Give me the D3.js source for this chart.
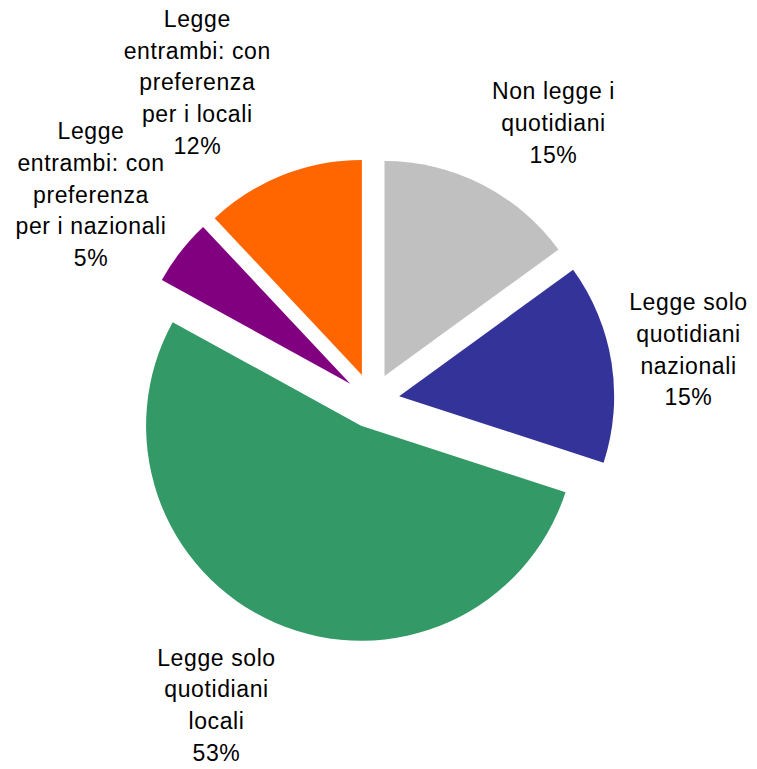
<!DOCTYPE html>
<html>
<head>
<meta charset="utf-8">
<script src="https://cdn.jsdelivr.net/npm/d3@7"></script>
<style>
  html, body { margin: 0; padding: 0; background: #ffffff; }
  svg { display: block; }
</style>
</head>
<body>
<script>
// Readership of daily newspapers — category names (line breaks as wrapped in the labels)
const categories = [
  "Non legge i\nquotidiani",
  "Legge solo\nquotidiani\nnazionali",
  "Legge solo\nquotidiani\nlocali",
  "Legge\nentrambi: con\npreferenza\nper i nazionali",
  "Legge\nentrambi: con\npreferenza\nper i locali"
];
// Share of respondents, percent
const shares = [15, 15, 53, 5, 12];
const sliceColors = ["#C0C0C0", "#333399", "#339966", "#800080", "#FF6600"];

// Layout
const width = 757, height = 769;
const cx = 372, cy = 400.5, radius = 215, explode = 27.5;
// centre x and first-line baseline of each label block
const labelAnchors = [[553.5, 99], [688.5, 310], [216.5, 665.5], [91, 139], [197.3, 26.7]];
const lineStep = 31.8;

const svg = d3.select("body").append("svg")
  .attr("width", width)
  .attr("height", height);

const pie = d3.pie().sort(null).value(d => d).startAngle(0).endAngle(2 * Math.PI);
const arcs = pie(shares);
const arc = d3.arc().innerRadius(0).outerRadius(radius);

const chart = svg.append("g").attr("transform", `translate(${cx},${cy})`);

// every slice is pulled out from the centre along its mid-angle
chart.selectAll("path.slice")
  .data(arcs)
  .join("path")
  .attr("class", "slice")
  .attr("d", arc)
  .attr("fill", (d, i) => sliceColors[i])
  .attr("transform", d => {
    const a = (d.startAngle + d.endAngle) / 2;
    return `translate(${explode * Math.sin(a)},${-explode * Math.cos(a)})`;
  });

// data labels: category name followed by the percentage
const labels = svg.append("g")
  .attr("font-family", "'Liberation Sans', Arial, Helvetica, sans-serif")
  .attr("font-size", 23)
  .attr("letter-spacing", "0.6px")
  .attr("fill", "#000000")
  .attr("text-anchor", "middle");

arcs.forEach((d, i) => {
  const lines = categories[i].split("\n").concat(`${shares[i]}%`);
  const [lx, ly] = labelAnchors[i];
  const text = labels.append("text");
  lines.forEach((line, k) => {
    text.append("tspan")
      .attr("x", lx)
      .attr("y", ly + k * lineStep)
      .text(line);
  });
});
</script>
</body>
</html>
